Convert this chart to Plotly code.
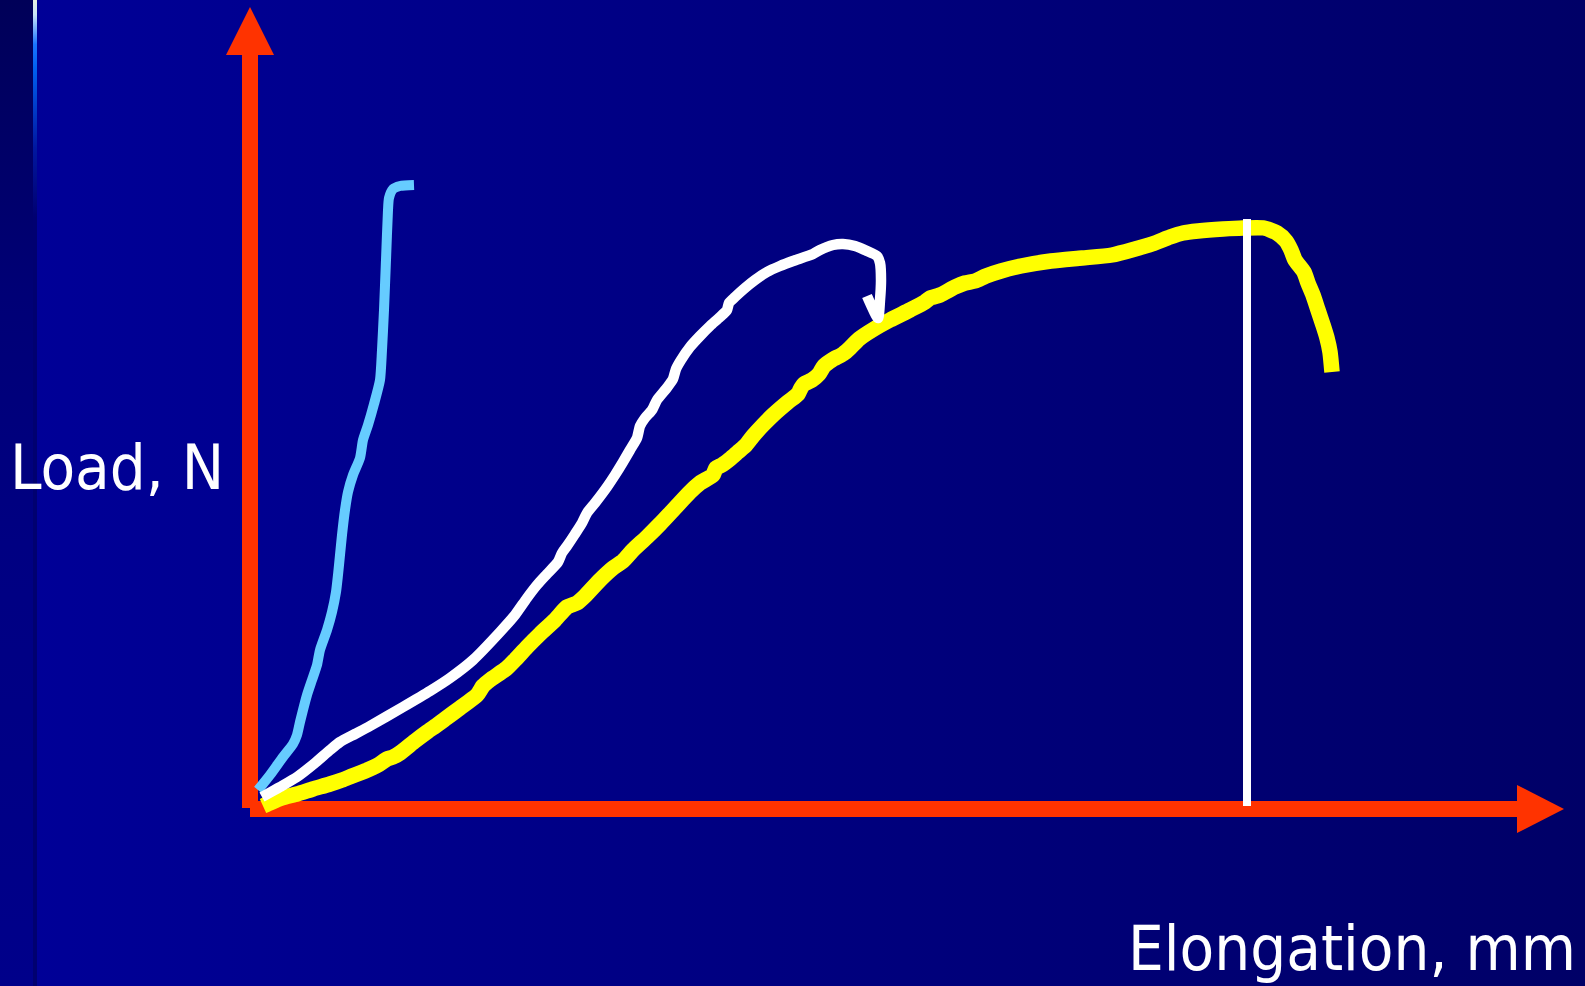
import base64
import plotly.graph_objects as go

# ---------------- data (elongation, load) ----------------
blue_x = [0.8, 2.0, 3.3, 4.3, 4.7, 5.0, 5.3, 5.7, 6.2, 6.7, 7.0, 7.7, 8.2, 8.6, 8.8, 9.0,
          9.2, 9.5, 9.8, 10.3, 11.0, 11.3, 11.8, 12.4, 13.0, 13.2, 13.4, 13.6, 13.8, 13.9,
          14.3, 15.0, 16.4]
blue_y = [1.8, 3.3, 5.1, 6.4, 7.3, 8.6, 9.8, 11.3, 12.8, 14.3, 15.8, 17.8, 19.6, 21.6, 23.3, 25.3,
          27.3, 29.8, 31.6, 33.3, 35.0, 36.8, 38.3, 40.4, 42.8, 45.8, 49.8, 54.8, 59.8, 61.0,
          61.9, 62.2, 62.3]

white_x = [1.2, 3.0, 4.7, 6.5, 8.0, 9.0, 10.5, 12.0, 15.3, 18.0, 20.0, 22.3, 25.0, 26.5, 27.7,
           28.7, 29.7, 30.8, 31.2, 31.7, 32.5, 33.2, 33.7, 34.5, 35.7, 36.5, 37.3, 38.0, 38.7,
           39.0, 39.5, 40.2, 40.7, 41.6, 42.3, 42.6, 43.1, 44.0, 45.0, 46.0, 47.0, 47.7, 47.9,
           48.5, 49.5, 50.5, 51.7, 53.0, 54.3, 56.3, 57.0, 58.3, 59.3, 60.5, 61.7, 62.7, 63.0,
           63.1, 63.0, 62.8, 61.7]
white_y = [1.1, 2.1, 3.1, 4.5, 5.8, 6.6, 7.4, 8.2, 10.1, 11.7, 13.0, 14.8, 17.6, 19.3, 21.0,
           22.3, 23.4, 24.6, 25.5, 26.2, 27.4, 28.5, 29.5, 30.5, 32.1, 33.3, 34.6, 35.8, 37.0,
           38.2, 39.0, 39.8, 40.8, 41.9, 42.9, 43.9, 44.8, 46.1, 47.2, 48.2, 49.1, 49.8, 50.5,
           51.1, 52.0, 52.8, 53.6, 54.2, 54.7, 55.4, 55.8, 56.3, 56.4, 56.2, 55.7, 55.2, 54.5,
           52.8, 50.8, 49.0, 51.2]

yellow_x = [1.3, 2.2, 3.2, 4.7, 6.3, 8.0, 9.2, 10.2, 11.5, 12.8, 13.7, 14.3, 15.0, 16.5, 17.7,
            18.7, 19.5, 21.0, 22.7, 23.3, 24.0, 25.7, 26.5, 27.7, 29.0, 30.5, 31.7, 32.7, 33.5,
            35.0, 36.3, 37.3, 38.3, 39.7, 41.0, 42.5, 44.0, 45.0, 46.3, 46.6, 47.2, 48.0, 48.8,
            49.6, 50.3, 51.3, 52.3, 53.8, 54.8, 55.1, 55.4, 56.2, 56.9, 57.4, 58.2, 59.3, 60.0,
            60.9, 62.4, 64.0, 66.0, 67.5, 68.0, 69.0, 70.5, 71.5, 72.5, 73.6, 75.1, 77.1, 80.1,
            83.2, 86.2, 90.2, 92.0, 93.3, 94.8, 97.3, 99.3, 101.4, 102.7, 103.6, 104.1, 104.5,
            105.4, 105.8, 106.3, 106.8, 107.3, 107.7, 108.0, 108.2]
yellow_y = [0.2, 0.6, 1.0, 1.4, 1.9, 2.4, 2.8, 3.2, 3.7, 4.3, 4.9, 5.1, 5.5, 6.7, 7.6,
            8.3, 8.9, 10.0, 11.3, 12.2, 12.8, 14.0, 14.8, 16.1, 17.4, 18.8, 20.1, 20.5, 21.2,
            22.8, 24.0, 24.7, 25.8, 27.1, 28.4, 30.0, 31.6, 32.5, 33.3, 34.0, 34.3, 34.9, 35.6,
            36.3, 37.2, 38.3, 39.3, 40.6, 41.4, 42.0, 42.4, 42.8, 43.4, 44.2, 44.8, 45.4, 46.0,
            46.9, 47.9, 48.8, 49.8, 50.6, 51.0, 51.3, 52.1, 52.5, 52.7, 53.2, 53.7, 54.2, 54.7,
            55.0, 55.3, 56.4, 57.1, 57.5, 57.7, 57.9, 58.0, 58.0, 57.5, 56.7, 55.8, 54.8,
            53.6, 52.5, 51.3, 49.8, 48.3, 47.0, 45.6, 43.6]

marker_x = [99.7, 99.7]
marker_y = [0.2, 58.9]

x_label = "Elongation, mm"
y_label = "Load, N"

# ---------------- layout constants ----------------
X_RANGE = [-25.0, 133.5]
Y_RANGE = [-17.8, 80.8]
W, H = 1585, 986
RED = "#FF3300"

# background (slide-like gradient) as an inline SVG image
svg = f"""<svg xmlns='http://www.w3.org/2000/svg' width='{W}' height='{H}' viewBox='0 0 {W} {H}' preserveAspectRatio='none'>
<defs>
<linearGradient id='m' x1='0' y1='0' x2='1' y2='0'>
<stop offset='0' stop-color='#000098'/><stop offset='1' stop-color='#000067'/></linearGradient>
<linearGradient id='s' x1='0' y1='0' x2='0' y2='1'>
<stop offset='0' stop-color='#000058'/><stop offset='0.3' stop-color='#000076'/>
<stop offset='0.55' stop-color='#000082'/><stop offset='1' stop-color='#00008A'/></linearGradient>
<linearGradient id='l' x1='0' y1='0' x2='0' y2='1'>
<stop offset='0' stop-color='#E8F0E0'/><stop offset='0.015' stop-color='#C8E4F8'/>
<stop offset='0.045' stop-color='#1A75FF'/><stop offset='0.07' stop-color='#0060F0'/>
<stop offset='0.15' stop-color='#0018A0'/><stop offset='0.22' stop-color='#000070'/>
<stop offset='1' stop-color='#000070'/></linearGradient>
</defs>
<rect x='0' y='0' width='{W}' height='{H}' fill='url(#m)'/>
<rect x='0' y='0' width='33' height='{H}' fill='url(#s)'/>
<rect x='33' y='0' width='4' height='{H}' fill='url(#l)'/>
</svg>"""
bg_uri = "data:image/svg+xml;base64," + base64.b64encode(svg.encode()).decode()

fig = go.Figure()
fig.add_trace(go.Scatter(x=blue_x, y=blue_y, mode="lines",
                         line=dict(color="#66CCFF", width=10, shape="spline", smoothing=0.6),
                         hoverinfo="skip"))
fig.add_trace(go.Scatter(x=yellow_x, y=yellow_y, mode="lines",
                         line=dict(color="#FFFF00", width=15.5, shape="spline", smoothing=0.6),
                         hoverinfo="skip"))
fig.add_trace(go.Scatter(x=white_x, y=white_y, mode="lines",
                         line=dict(color="#FFFFFF", width=10.5, shape="spline", smoothing=0.6),
                         hoverinfo="skip"))
fig.add_trace(go.Scatter(x=marker_x, y=marker_y, mode="lines",
                         line=dict(color="#FFFFFF", width=8), hoverinfo="skip"))

# axis arrows (red)
Y_TOP = 75.3      # top of vertical shaft
Y_TIP = 80.1
X_END = 126.7     # end of horizontal shaft
X_TIP = 131.4
shapes = [
    dict(type="rect", xref="x", yref="y", x0=-0.8, x1=0.8, y0=0.0, y1=Y_TOP,
         fillcolor=RED, line=dict(width=0), layer="below"),
    dict(type="path", xref="x", yref="y",
         path=f"M -2.4,{Y_TOP} L 2.4,{Y_TOP} L 0,{Y_TIP} Z",
         fillcolor=RED, line=dict(width=0), layer="below"),
    dict(type="rect", xref="x", yref="y", x0=0.0, x1=X_END, y0=-0.9, y1=0.7,
         fillcolor=RED, line=dict(width=0), layer="below"),
    dict(type="path", xref="x", yref="y",
         path=f"M {X_END},2.3 L {X_END},-2.5 L {X_TIP},-0.1 Z",
         fillcolor=RED, line=dict(width=0), layer="below"),
]

font = dict(family="DejaVu Sans Condensed, DejaVu Sans, sans-serif", size=63, color="white")
annotations = [
    dict(text=y_label, xref="paper", yref="paper", x=8 / W, y=1 - 467 / H,
         xanchor="left", yanchor="middle", showarrow=False, font=font),
    dict(text=x_label, xref="paper", yref="paper", x=1578 / W, y=1 - 948 / H,
         xanchor="right", yanchor="middle", showarrow=False, font=font),
]

fig.update_layout(
    width=W, height=H, margin=dict(l=0, r=0, t=0, b=0),
    paper_bgcolor="#000080", plot_bgcolor="#000080",
    showlegend=False,
    xaxis=dict(range=X_RANGE, visible=False, showgrid=False, zeroline=False, fixedrange=True),
    yaxis=dict(range=Y_RANGE, visible=False, showgrid=False, zeroline=False, fixedrange=True),
    images=[dict(source=bg_uri, xref="paper", yref="paper", x=0, y=1, sizex=1, sizey=1,
                 sizing="stretch", xanchor="left", yanchor="top", layer="below")],
    shapes=shapes,
    annotations=annotations,
)

fig.write_html("out.html", config={"displayModeBar": False, "staticPlot": True},
               post_script="document.body.style.margin='0';document.body.style.overflow='hidden';")
